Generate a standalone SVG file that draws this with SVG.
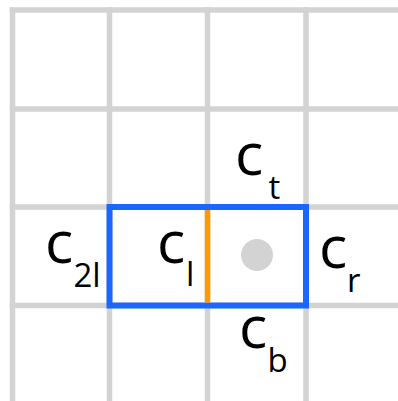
<svg xmlns="http://www.w3.org/2000/svg" width="398" height="401" viewBox="0 0 398 401">
<style>
.grid line{stroke:#d3d3d3;stroke-width:5.5}
.lab{font-family:"Open Sans","Noto Sans",sans-serif;fill:#000;font-weight:500}
.big{font-size:59px}
.sub{font-size:33px;font-weight:400}
</style>
<rect width="398" height="401" fill="#fff"/>
<g id="grid" class="grid">
<line x1="12.5" y1="7.3" x2="12.5" y2="401"/>
<line x1="109.5" y1="7.3" x2="109.5" y2="401"/>
<line x1="207.5" y1="7.3" x2="207.5" y2="401"/>
<line x1="306" y1="7.3" x2="306" y2="401"/>
<line x1="9.8" y1="10" x2="398" y2="10"/>
<line x1="9.8" y1="109" x2="398" y2="109"/>
<line x1="9.8" y1="207" x2="398" y2="207"/>
<line x1="9.8" y1="305.5" x2="398" y2="305.5"/>
</g>
<g id="connectors">
<rect id="block" x="109.5" y="207" width="196.5" height="98.5" fill="none" stroke="#1a66ff" stroke-width="6"/>
<line id="edge" x1="207.5" y1="210" x2="207.5" y2="302.5" stroke="#ff9900" stroke-width="5.5"/>
</g>
<g id="center"><circle cx="257" cy="255" r="16" fill="#d3d3d3"/></g>
<g id="c_t" class="lab"><text class="big" x="235" y="175">c</text><text class="sub" x="268.5" y="199">t</text></g>
<g id="c_2l" class="lab"><text class="big" x="45" y="263">c</text><text class="sub" x="73.5" y="287">2l</text></g>
<g id="c_l" class="lab"><text class="big" x="157" y="263">c</text><text class="sub" x="186" y="286">l</text></g>
<g id="c_r" class="lab"><text class="big" x="319" y="268">c</text><text class="sub" x="347" y="292">r</text></g>
<g id="c_b" class="lab"><text class="big" x="239" y="348">c</text><text class="sub" x="267.5" y="372">b</text></g>
</svg>
